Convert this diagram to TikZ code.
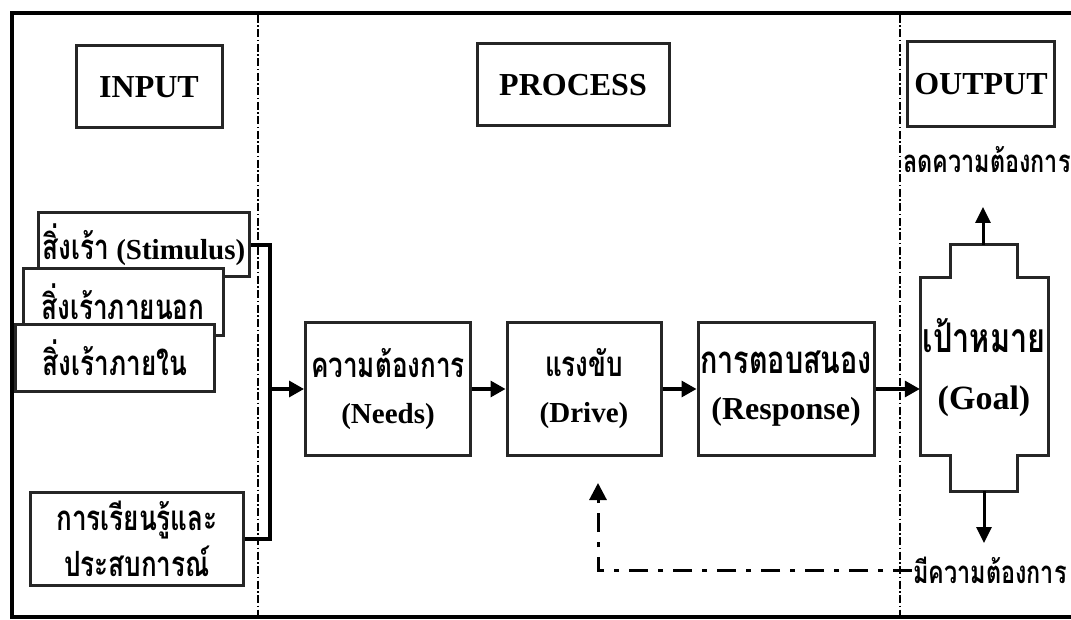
\documentclass[tikz,border=0pt]{standalone}
\usepackage{fontspec}
\setmainfont{Liberation Serif}
\newfontfamily\thaifont[Script=Thai, FakeStretch=0.75, Scale=1.2]{Loma}
\usetikzlibrary{arrows.meta}
\newcommand{\thtxt}[1]{{\thaifont #1}}

\begin{document}
\begin{tikzpicture}[x=1pt, y=-1pt, line join=miter,
  box/.style={draw=black!85, line width=3pt, fill=white, inner sep=1pt, align=center, font=\bfseries\fontsize{29}{46}\selectfont},
  head/.style={draw=black!85, line width=3pt, inner sep=0pt, font=\bfseries\fontsize{32}{38}\selectfont},
  link/.style={line width=3.2pt, -{Triangle[length=15pt,width=16pt]}},
  sep/.style={line width=1.2pt, dash pattern=on 8pt off 2.5pt on 1.5pt off 2.5pt},
  lbl/.style={inner sep=1pt, font=\bfseries\fontsize{26}{34}\selectfont}]
\useasboundingbox (0,0) rectangle (1071,620);

\draw[line width=4pt] (10,13) -- (1071,13);
\draw[line width=4pt] (12,13) -- (12,617) -- (1071,617);
\draw[sep] (258,15) -- (258,617);
\draw[sep] (900,15) -- (900,617);

\node[head, minimum width=146pt, minimum height=82pt] (input) at (149,87) {INPUT};
\node[head, minimum width=192pt, minimum height=82pt] (process) at (573,85) {PROCESS};
\node[head, minimum width=147pt, minimum height=85pt] (output) at (981,84) {OUTPUT};

\node[box, minimum width=211pt, minimum height=64pt] (stim) at (144,245) {\thtxt{สิ่งเร้า} (Stimulus)};
\node[box, minimum width=200pt, minimum height=67pt] (outer) at (123,302) {\thtxt{สิ่งเร้าภายนอก}};
\node[box, minimum width=199pt, minimum height=66pt] (inner) at (115,358) {\thtxt{สิ่งเร้าภายใน}};
\node[box, minimum width=213pt, minimum height=93pt] (learn) at (137,539) {\thtxt{การเรียนรู้และ}\\\thtxt{ประสบการณ์}};

\node[box, minimum width=165pt, minimum height=132pt] (needs) at (388,389) {\thtxt{ความต้องการ}\\(Needs)};
\node[box, minimum width=154pt, minimum height=132pt] (drive) at (584,389) {\thtxt{แรงขับ}\\(Drive)};
\node[box, minimum width=176pt, minimum height=132pt, font=\bfseries\fontsize{32}{46}\selectfont] (resp) at (786,389) {\thtxt{การตอบสนอง}\\(Response)};

\draw[draw=black!85, line width=3pt, fill=white] (950,245) -- (1017,245) -- (1017,278) -- (1048,278) -- (1048,455) -- (1017,455) -- (1017,491) -- (950,491) -- (950,455) -- (920,455) -- (920,278) -- (950,278) -- cycle;
\node[inner sep=0pt, minimum width=128pt, minimum height=177pt, align=center, font=\bfseries\fontsize{34}{57}\selectfont] (goal) at (984,368) {\thtxt{เป้าหมาย}\\(Goal)};
\coordinate (gtop) at (983,245);
\coordinate (gbot) at (984,491);
\coordinate (uptip) at (983,207);
\coordinate (downtip) at (984,543);
\coordinate (fbtip) at (598,483);

\node[lbl] (less) at (987,160) {\thtxt{ลดความต้องการ}};
\node[lbl] (more) at (990,570) {\thtxt{มีความต้องการ}};

\draw[line width=3.2pt] (stim.east) -- (270,245) -- (270,539) -- (learn.east);
\draw[link] (270,389) -- (needs.west);
\draw[link] (needs.east) -- (drive.west);
\draw[link] (drive.east) -- (resp.west);
\draw[link] (resp.east) -- (resp.east -| goal.west);
\draw[line width=3pt, -{Triangle[length=16pt,width=15pt]}] (gtop) -- (uptip);
\draw[line width=3pt, -{Triangle[length=16pt,width=15pt]}] (gbot) -- (downtip);
\draw[line width=3pt, dash pattern=on 19pt off 10pt on 5pt off 10pt, -{Triangle[length=17pt,width=17pt]}] (more.west) -- (fbtip |- more.west) -- (fbtip);
\end{tikzpicture}
\end{document}
